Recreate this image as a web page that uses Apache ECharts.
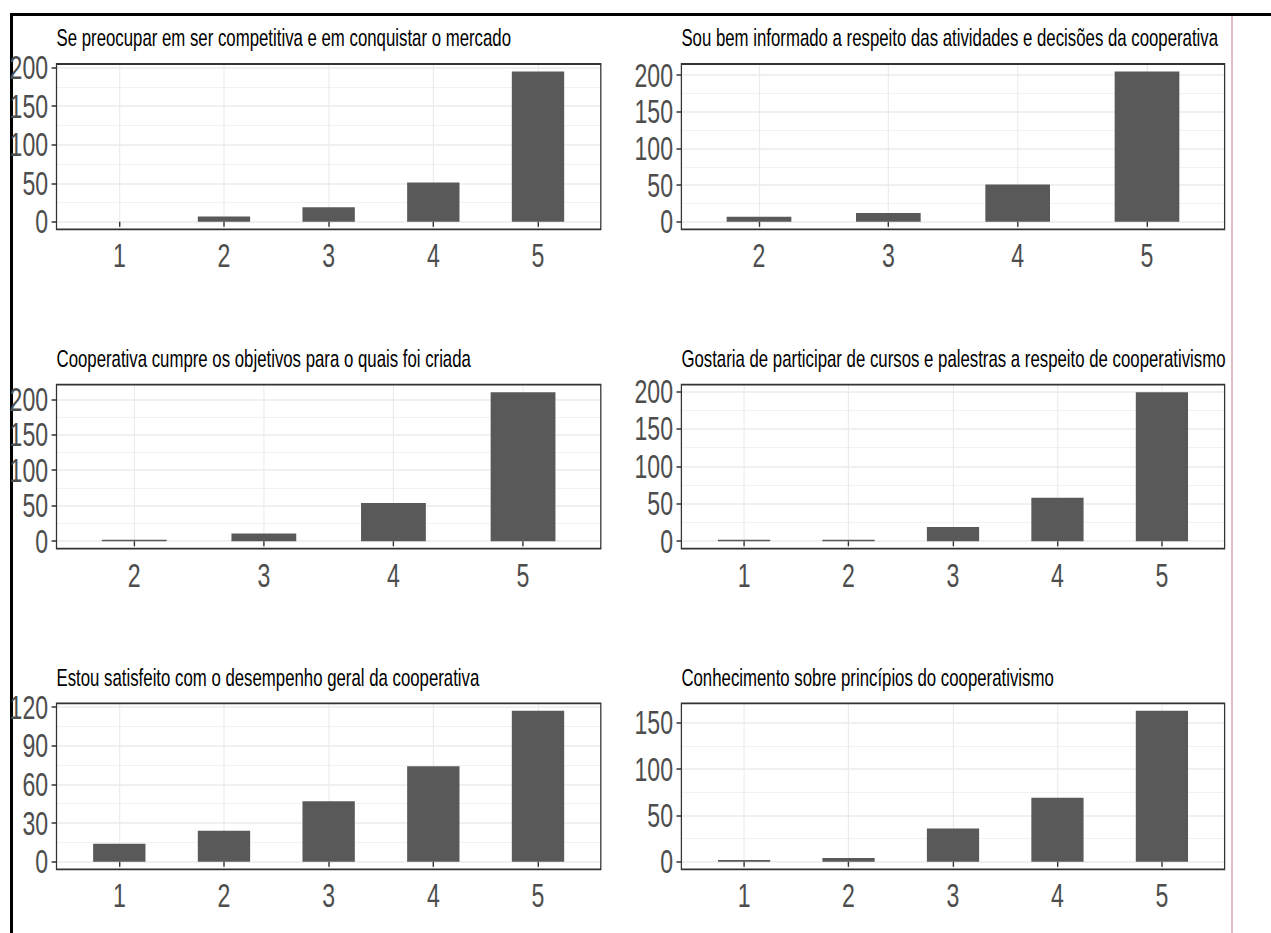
<!DOCTYPE html>
<html><head><meta charset="utf-8">
<script src="https://cdn.jsdelivr.net/npm/echarts@6/dist/echarts.min.js"></script>
<style>
html,body{margin:0;padding:0;background:#fff;overflow:hidden}
#wrap{width:1271px;height:933px;overflow:hidden;position:relative;background:#fff}
#main{height:933px;transform-origin:0 0;position:absolute;left:0;top:0}
</style></head><body><div id="wrap"><div id="main"></div></div>
<script>
// ---- data ----
const title1 = 'Se preocupar em ser competitiva e em conquistar o mercado';
const title2 = 'Sou bem informado a respeito das atividades e decisões da cooperativa';
const title3 = 'Cooperativa cumpre os objetivos para o quais foi criada';
const title4 = 'Gostaria de participar de cursos e palestras a respeito de cooperativismo';
const title5 = 'Estou satisfeito com o desempenho geral da cooperativa';
const title6 = 'Conhecimento sobre princípios do cooperativismo';

const cats1 = [1, 2, 3, 4, 5];
const vals1 = [0, 7, 19, 51, 195];
const cats2 = [2, 3, 4, 5];
const vals2 = [7, 12, 51, 205];
const cats3 = [2, 3, 4, 5];
const vals3 = [2, 11, 54, 210];
const cats4 = [1, 2, 3, 4, 5];
const vals4 = [2, 2, 19, 58, 199];
const cats5 = [1, 2, 3, 4, 5];
const vals5 = [14, 24, 47, 74, 117];
const cats6 = [1, 2, 3, 4, 5];
const vals6 = [2, 4, 36, 69, 163];

const yTicks1 = [0, 50, 100, 150, 200];
const yTicks2 = [0, 50, 100, 150, 200];
const yTicks3 = [0, 50, 100, 150, 200];
const yTicks4 = [0, 50, 100, 150, 200];
const yTicks5 = [0, 30, 60, 90, 120];
const yTicks6 = [0, 50, 100, 150];

// ---- layout ----
const S = 0.7;               // horizontal squeeze of the whole figure
const W = 1271 / S;
const FONT = 'Liberation Sans, Arial, sans-serif';
const colLeft = [56.5, 681.4];
const colWidth = [544.3, 543.2];
const rowTop = [64, 384.7, 703.3];
const rowHeight = [165.3, 164, 166];

const panels = [
  {title: title1, cats: cats1, vals: vals1, ticks: yTicks1},
  {title: title2, cats: cats2, vals: vals2, ticks: yTicks2},
  {title: title3, cats: cats3, vals: vals3, ticks: yTicks3},
  {title: title4, cats: cats4, vals: vals4, ticks: yTicks4},
  {title: title5, cats: cats5, vals: vals5, ticks: yTicks5},
  {title: title6, cats: cats6, vals: vals6, ticks: yTicks6}
];

const main = document.getElementById('main');
main.style.width = W + 'px';
main.style.transform = 'scaleX(' + S + ')';
const chart = echarts.init(main, null, {renderer: 'svg', width: W, height: 933});

const grid = [], xAxis = [], yAxis = [], series = [], title = [];
panels.forEach((p, i) => {
  const col = i % 2, row = Math.floor(i / 2);
  const M = Math.max.apply(null, p.vals);
  const step = p.ticks[1] - p.ticks[0];
  grid.push({
    left: colLeft[col] / S, top: rowTop[row],
    width: colWidth[col] / S, height: rowHeight[row],
    show: true, backgroundColor: 'transparent',
    borderColor: '#333333', borderWidth: 1.8, z: 5
  });
  title.push({
    text: p.title, left: colLeft[col] / S, top: rowTop[row] - 38.3, padding: 0,
    textStyle: {fontSize: 24, fontWeight: 'normal', color: '#000', fontFamily: FONT}
  });
  xAxis.push({
    type: 'value', gridIndex: i,
    min: p.cats[0] - 0.6, max: p.cats[p.cats.length - 1] + 0.6,
    minInterval: 1, maxInterval: 1,
    axisLine: {show: false},
    axisTick: {show: true, customValues: p.cats, length: 5, lineStyle: {color: '#333333', width: 2}},
    axisLabel: {customValues: p.cats, margin: 10, fontSize: 33, color: '#4D4D4D', fontFamily: FONT},
    splitLine: {show: true, lineStyle: {color: '#EBEBEB', width: 1.6}}
  });
  yAxis.push({
    type: 'value', gridIndex: i,
    min: -0.05 * M, max: 1.05 * M,
    minInterval: step, maxInterval: step,
    axisLine: {show: false},
    axisTick: {show: true, customValues: p.ticks, length: 7, lineStyle: {color: '#333333', width: 1.5}},
    axisLabel: {customValues: p.ticks, margin: 12, fontSize: 33, color: '#4D4D4D', fontFamily: FONT},
    splitLine: {show: true, lineStyle: {color: '#EBEBEB', width: 1.6}},
    minorTick: {show: false, splitNumber: 2},
    minorSplitLine: {show: true, lineStyle: {color: '#F0F0F0', width: 1}}
  });
  series.push({
    type: 'bar', xAxisIndex: i, yAxisIndex: i,
    data: p.cats.map((c, j) => [c, p.vals[j] > 0 ? p.vals[j] : '-']),
    barWidth: '50%',
    itemStyle: {color: '#595959'},
    silent: true
  });
});

chart.setOption({
  backgroundColor: '#fff',
  animation: false,
  title, grid, xAxis, yAxis, series,
  graphic: [
    {type: 'line', shape: {x1: 10 / S, y1: 14.5, x2: W, y2: 14.5}, style: {stroke: '#000', lineWidth: 3}},
    {type: 'line', shape: {x1: 11.5 / S, y1: 13, x2: 11.5 / S, y2: 933}, style: {stroke: '#000', lineWidth: 3 / S}},
    {type: 'line', shape: {x1: 1232 / S, y1: 16, x2: 1232 / S, y2: 933}, style: {stroke: '#D7A9AF', lineWidth: 1.5 / S}}
  ]
});
</script></body></html>
